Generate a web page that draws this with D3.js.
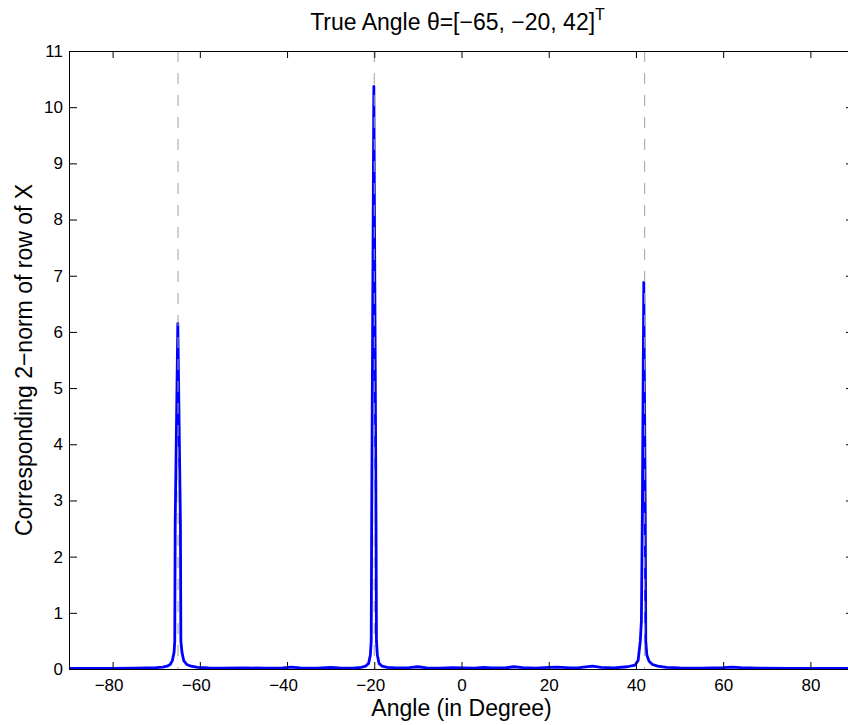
<!DOCTYPE html>
<html>
<head>
<meta charset="utf-8">
<script src="https://cdn.jsdelivr.net/npm/d3@7"></script>
<style>
  body { margin: 0; background: #fff; }
  svg { display: block; font-family: "Liberation Sans", Arial, sans-serif; }
  .axis path, .axis line { stroke: #000; stroke-width: 1; }
  .axis text { font-size: 17px; fill: #000; font-family: "Liberation Sans", Arial, sans-serif; }
</style>
</head>
<body>
<div id="chart"></div>
<script>
// data
var angles = [-90, -85, -80, -75, -72, -70, -68.5, -67.5, -66.8, -66.3, -65.9, -65.75, -65.65, -65.05,
  -64.45, -64.35, -64.1, -63.7, -63, -62, -60.5, -58, -55, -50, -45, -41, -39, -37, -33, -30, -28,
  -25, -23, -22, -21.3, -20.9, -20.7, -20.6, -20.1, -19.6, -19.5, -19.3, -18.9, -18.2, -17, -15,
  -12, -10, -8, -5, -2, 0, 3, 5, 7, 10, 12, 14, 17, 20, 22, 25, 27, 30, 32, 35, 38, 39.8, 40.5,
  41, 41.25, 41.45, 41.8, 42.15, 42.25, 42.5, 43, 43.8, 45, 47, 50, 55, 60, 62, 64, 68, 75, 80, 85, 90];
var norms = [0.01, 0.01, 0.012, 0.015, 0.02, 0.025, 0.035, 0.05, 0.08, 0.15, 0.3, 0.5, 2.6, 6.15,
  2.6, 0.5, 0.3, 0.15, 0.08, 0.05, 0.03, 0.02, 0.015, 0.02, 0.015, 0.02, 0.035, 0.02, 0.015, 0.03, 0.02,
  0.015, 0.03, 0.05, 0.1, 0.25, 0.5, 2.6, 10.37, 2.6, 0.5, 0.25, 0.1, 0.05, 0.03, 0.02,
  0.025, 0.04, 0.02, 0.015, 0.025, 0.02, 0.015, 0.03, 0.02, 0.02, 0.04, 0.025, 0.015, 0.03, 0.035, 0.02, 0.025, 0.05, 0.03, 0.02, 0.04, 0.07, 0.15,
  0.5, 0.85, 2.6, 6.88, 2.6, 0.5, 0.25, 0.14, 0.08, 0.05, 0.03, 0.02, 0.015, 0.025, 0.035, 0.025, 0.015, 0.01, 0.01, 0.01, 0.01];
var trueAngles = [-65, -20, 42];
var xTicks = [-80, -60, -40, -20, 0, 20, 40, 60, 80];
var yTicks = [0, 1, 2, 3, 4, 5, 6, 7, 8, 9, 10, 11];

var outerW = 848, outerH = 725;
var margin = {left: 69, right: -6, top: 51, bottom: 56};
var w = outerW - margin.left - margin.right,
    h = outerH - margin.top - margin.bottom;

var xScale = d3.scaleLinear().domain([-90, 90]).range([0, w]);
var yScale = d3.scaleLinear().domain([0, 11]).range([h, 0]);

var svg = d3.select('#chart').append('svg')
    .attr('width', outerW)
    .attr('height', outerH);

var g = svg.append('g')
    .attr('transform', 'translate(' + margin.left + ',' + margin.top + ')');

var lineData = angles.map(function(a, i) { return {angle: a, value: norms[i]}; });

var line = d3.line()
    .x(function(d) { return xScale(d.angle); })
    .y(function(d) { return yScale(d.value); });

g.append('path')
    .datum(lineData)
    .attr('fill', 'none')
    .attr('stroke', '#0000ff')
    .attr('stroke-width', 2.8)
    .attr('stroke-linejoin', 'round')
    .attr('d', line);

// true angle markers
g.selectAll('.true-line')
    .data(trueAngles)
    .enter()
    .append('line')
    .attr('class', 'true-line')
    .attr('x1', function(d) { return xScale(d); })
    .attr('x2', function(d) { return xScale(d); })
    .attr('y1', 0)
    .attr('y2', h)
    .attr('stroke', '#a0a0a0')
    .attr('stroke-width', 1)
    .attr('stroke-dasharray', '11,11');

// axes, ticks pointing inward
var xAxisG = g.append('g')
    .attr('class', 'axis')
    .attr('transform', 'translate(0,' + h + ')')
    .call(d3.axisBottom(xScale).tickValues(xTicks).tickSize(-7).tickSizeOuter(0).tickPadding(10)
        .tickFormat(function(d) { return d < 0 ? '\u2212' + Math.abs(d) : d; }));

xAxisG.selectAll('text')
    .attr('dx', function(d) { return d < 0 ? -4 : 0; });

g.append('g')
    .attr('class', 'axis')
    .call(d3.axisTop(xScale).tickValues(xTicks).tickSize(-7).tickSizeOuter(0).tickFormat(''));

g.append('g')
    .attr('class', 'axis')
    .call(d3.axisLeft(yScale).tickValues(yTicks).tickSize(-8).tickSizeOuter(0).tickPadding(6));

g.append('g')
    .attr('class', 'axis')
    .attr('transform', 'translate(' + w + ',0)')
    .call(d3.axisRight(yScale).tickValues(yTicks).tickSize(-8).tickSizeOuter(0).tickFormat(''));

// labels
var title = svg.append('text')
    .attr('x', margin.left + w / 2 - 4)
    .attr('y', 30)
    .attr('text-anchor', 'middle')
    .attr('font-size', 23);
title.append('tspan').text('True Angle \u03b8=[\u221265, \u221220, 42]');
title.append('tspan').attr('dy', -10).attr('font-size', 16).text('T');

svg.append('text')
    .attr('x', margin.left + w / 2)
    .attr('y', 716)
    .attr('text-anchor', 'middle')
    .attr('font-size', 23)
    .text('Angle (in Degree)');

svg.append('text')
    .attr('transform', 'translate(32,' + (margin.top + h / 2) + ') rotate(-90)')
    .attr('text-anchor', 'middle')
    .attr('font-size', 23)
    .text('Corresponding 2\u2212norm of row of X');
</script>
</body>
</html>
